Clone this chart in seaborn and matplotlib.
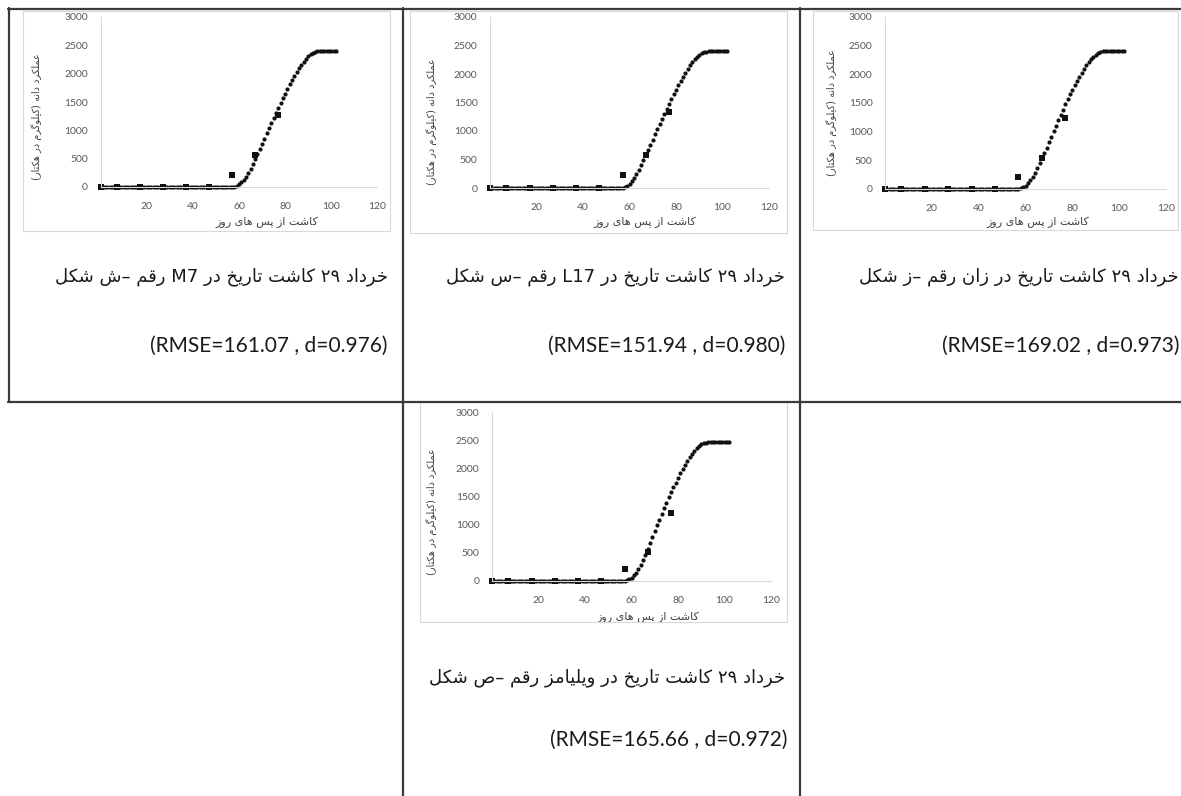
import matplotlib
matplotlib.use("Agg")
import matplotlib.pyplot as plt
from matplotlib.lines import Line2D
from matplotlib.patches import Rectangle
import pandas as pd
import seaborn as sns

sns.set_theme(style="white")
plt.rcParams["font.family"] = ["Lato", "DejaVu Sans"]

W, H = 1181, 796

# ----------------------------------------------------------------------
# data (grain yield, kg/ha vs days after sowing)
# ----------------------------------------------------------------------
sim_days = list(range(1, 103))
flat_part = [0] * 57  # days 1-57, nothing simulated yet
rise_m7 = [5, 20, 45, 80, 125, 180, 245, 320, 405, 495,
           585, 675, 765, 855, 945, 1035, 1125, 1215, 1305, 1395,
           1480, 1565, 1650, 1730, 1810, 1885, 1960, 2030, 2095, 2155,
           2210, 2260, 2305, 2340, 2368, 2385, 2395, 2400, 2400, 2400,
           2400, 2400, 2400, 2400, 2400]
rise_l17 = [15, 40, 75, 120, 175, 240, 315, 400, 490, 580,
            670, 760, 850, 940, 1030, 1120, 1210, 1300, 1390, 1475,
            1560, 1645, 1725, 1805, 1880, 1955, 2025, 2090, 2150, 2205,
            2255, 2300, 2335, 2362, 2380, 2392, 2398, 2400, 2400, 2400,
            2400, 2400, 2400, 2400, 2400]
rise_zan = [10, 30, 60, 100, 150, 210, 280, 360, 445, 535,
            625, 720, 815, 910, 1005, 1100, 1195, 1290, 1385, 1475,
            1565, 1650, 1735, 1815, 1890, 1960, 2030, 2095, 2155, 2210,
            2260, 2305, 2340, 2370, 2390, 2402, 2408, 2410, 2410, 2410,
            2410, 2410, 2410, 2410, 2410]
rise_williams = [10, 30, 60, 100, 150, 210, 280, 365, 460, 560,
                 670, 780, 885, 990, 1090, 1190, 1290, 1390, 1485, 1575,
                 1660, 1745, 1830, 1910, 1985, 2060, 2130, 2195, 2255, 2310,
                 2355, 2395, 2425, 2445, 2455, 2460, 2460, 2460, 2460, 2460,
                 2460, 2460, 2460, 2460, 2460]

obs_days = [0, 7, 17, 27, 37, 47, 57, 67, 77]
obs_m7 = [0, 0, 0, 0, 0, 0, 210, 560, 1270]
obs_l17 = [0, 0, 0, 0, 0, 0, 225, 580, 1340]
obs_zan = [0, 0, 0, 0, 0, 0, 210, 540, 1230]
obs_williams = [0, 0, 0, 0, 0, 0, 210, 515, 1200]

captions = ["شکل ش– رقم M7 در تاریخ کاشت ۲۹ خرداد",
            "شکل س– رقم L17 در تاریخ کاشت ۲۹ خرداد",
            "شکل ز– رقم زان در تاریخ کاشت ۲۹ خرداد",
            "شکل ص– رقم ویلیامز در تاریخ کاشت ۲۹ خرداد"]
stats = ["(RMSE=161.07 , d=0.976)", "(RMSE=151.94 , d=0.980)",
         "(RMSE=169.02 , d=0.973)", "(RMSE=165.66 , d=0.972)"]
x_title = "روز های پس از کاشت"
y_title = "عملکرد دانه (کیلوگرم در هکتار)"
x_ticks = [20, 40, 60, 80, 100, 120]
y_ticks = [0, 500, 1000, 1500, 2000, 2500, 3000]

# ----------------------------------------------------------------------
# minimal persian shaping (matplotlib does no joining / bidi)
# ----------------------------------------------------------------------
FORMS = {
    "ا": ("\uFE8D", "\uFE8E", None, None),
    "د": ("\uFEA9", "\uFEAA", None, None),
    "ر": ("\uFEAD", "\uFEAE", None, None),
    "ز": ("\uFEAF", "\uFEB0", None, None),
    "و": ("\uFEED", "\uFEEE", None, None),
    "ت": ("\uFE95", "\uFE96", "\uFE97", "\uFE98"),
    "خ": ("\uFEA5", "\uFEA6", "\uFEA7", "\uFEA8"),
    "س": ("\uFEB1", "\uFEB2", "\uFEB3", "\uFEB4"),
    "ش": ("\uFEB5", "\uFEB6", "\uFEB7", "\uFEB8"),
    "ص": ("\uFEB9", "\uFEBA", "\uFEBB", "\uFEBC"),
    "ع": ("\uFEC9", "\uFECA", "\uFECB", "\uFECC"),
    "ق": ("\uFED5", "\uFED6", "\uFED7", "\uFED8"),
    "ل": ("\uFEDD", "\uFEDE", "\uFEDF", "\uFEE0"),
    "م": ("\uFEE1", "\uFEE2", "\uFEE3", "\uFEE4"),
    "ن": ("\uFEE5", "\uFEE6", "\uFEE7", "\uFEE8"),
    "ه": ("\uFEE9", "\uFEEA", "\uFEEB", "\uFEEC"),
    "پ": ("\uFB56", "\uFB57", "\uFB58", "\uFB59"),
    "ک": ("\uFB8E", "\uFB8F", "\uFB90", "\uFB91"),
    "گ": ("\uFB92", "\uFB93", "\uFB94", "\uFB95"),
    "ی": ("\uFBFC", "\uFBFD", "\uFBFE", "\uFBFF"),
}


def dual(c):
    return c in FORMS and FORMS[c][2] is not None


def shape_run(run):
    out, i = [], 0
    while i < len(run):
        c = run[i]
        prev_joins = i > 0 and dual(run[i - 1])
        if c == "ل" and i + 1 < len(run) and run[i + 1] == "ا":
            out.append("\uFEFC" if prev_joins else "\uFEFB")
            i += 2
            continue
        next_joins = dual(c) and i + 1 < len(run) and run[i + 1] in FORMS
        iso, fin, ini, med = FORMS[c]
        if prev_joins and next_joins:
            out.append(med)
        elif prev_joins:
            out.append(fin)
        elif next_joins:
            out.append(ini)
        else:
            out.append(iso)
        i += 1
    return "".join(out)


def farsi(text, rtl=False):
    text = text.replace("ك", "ک").replace("ي", "ی")
    runs, cur, cur_ar = [], "", None
    for ch in text:
        is_ar = ch in FORMS
        if cur and is_ar != cur_ar:
            runs.append((cur, cur_ar))
            cur = ""
        cur += ch
        cur_ar = is_ar
    if cur:
        runs.append((cur, cur_ar))
    if rtl:
        s = "".join(shape_run(r) if a else r for r, a in runs)[::-1]
        return s.translate(str.maketrans("()", ")("))
    # the scan lays these lines out left-to-right, word by word
    return "".join(shape_run(r)[::-1] if a else r for r, a in runs)


FA = ["DejaVu Sans"]

# ----------------------------------------------------------------------
# layout (pixel boxes: left, top, right, bottom)
# ----------------------------------------------------------------------
charts = [
    dict(rise=rise_m7, obs=obs_m7, ax=(100.5, 17, 377.5, 187), frame=(23, 11, 390, 231),
         ylab=(37, 117), xlab=(267, 222), cap=(388, 277), stat=(388, 346)),
    dict(rise=rise_l17, obs=obs_l17, ax=(490, 17, 769, 188), frame=(410, 11, 787, 233),
         ylab=(432, 122), xlab=(645, 222), cap=(785, 277), stat=(785, 346)),
    dict(rise=rise_zan, obs=obs_zan, ax=(885, 17, 1166, 189), frame=(813, 11, 1178, 230),
         ylab=(832, 113), xlab=(1038, 222), cap=(1179, 277), stat=(1179, 346)),
    dict(rise=rise_williams, obs=obs_williams, ax=(492, 412, 771, 581), frame=(420, 402, 787, 622),
         ylab=(432, 512), xlab=(648, 617), cap=(785, 678), stat=(787, 740)),
]

fig = plt.figure(figsize=(W / 100, H / 100), dpi=100)
fig.patch.set_facecolor("white")


def to_axes(box, x, y):
    l, t, r, b = box
    return (x - l) / (r - l), (b - y) / (b - t)


for i, c in enumerate(charts):
    l, t, r, b = c["ax"]
    ax = fig.add_axes([l / W, 1 - b / H, (r - l) / W, (b - t) / H])
    ax.set_facecolor("none")

    sim = pd.DataFrame({"day": sim_days, "yield": flat_part + c["rise"]})
    obs = pd.DataFrame({"day": obs_days, "yield": c["obs"]})
    sns.scatterplot(data=sim, x="day", y="yield", ax=ax, color="#111111",
                    marker="o", s=9, linewidth=0)
    sns.scatterplot(data=obs, x="day", y="yield", ax=ax, color="#111111",
                    marker="s", s=17, linewidth=0)
    for coll in ax.collections:
        coll.set_clip_on(False)

    ax.set_xlim(0, 120)
    ax.set_ylim(0, 3000)
    ax.set_xticks(x_ticks)
    ax.set_yticks(y_ticks)
    ax.tick_params(axis="x", length=3, width=0.8, color="#d9d9d9", labelsize=7.5,
                   labelcolor="#595959", pad=8)
    ax.tick_params(axis="y", length=0, labelsize=7.5, labelcolor="#595959", pad=9)
    for side in ["top", "right"]:
        ax.spines[side].set_visible(False)
    for side in ["left", "bottom"]:
        ax.spines[side].set_color("#d9d9d9")
        ax.spines[side].set_linewidth(0.8)

    ax.set_xlabel(farsi(x_title), fontsize=8, color="#404040", va="center",
                  ha="center", family=FA)
    ax.xaxis.set_label_coords(*to_axes(c["ax"], *c["xlab"]))
    ax.set_ylabel(farsi(y_title, rtl=True), fontsize=7, color="#404040",
                  va="center", ha="center", family=FA)
    ax.yaxis.set_label_coords(*to_axes(c["ax"], *c["ylab"]))

    fl, ft, fr, fb = c["frame"]
    fig.add_artist(Rectangle((fl / W, 1 - fb / H), (fr - fl) / W, (fb - ft) / H,
                             fill=False, ec="#d9d9d9", lw=0.8))

    fig.text(c["cap"][0] / W, 1 - c["cap"][1] / H, farsi(captions[i]), family=FA,
             ha="right", va="center", fontsize=13, color="#1a1a1a")
    fig.text(c["stat"][0] / W, 1 - c["stat"][1] / H, stats[i],
             ha="right", va="center", fontsize=15, color="#1a1a1a")

# table rules of the scanned page
rules = [((8, 8.5), (1181, 8.5)), ((8, 401.5), (1181, 401.5)),
         ((8.5, 8), (8.5, 402)), ((403.5, 8), (403.5, 796)), ((800.5, 8), (800.5, 796))]
for (x0, y0), (x1, y1) in rules:
    fig.add_artist(Line2D([x0 / W, x1 / W], [1 - y0 / H, 1 - y1 / H],
                          color="#3a3a3a", lw=1.6))

fig.savefig("out.png", dpi=100)
